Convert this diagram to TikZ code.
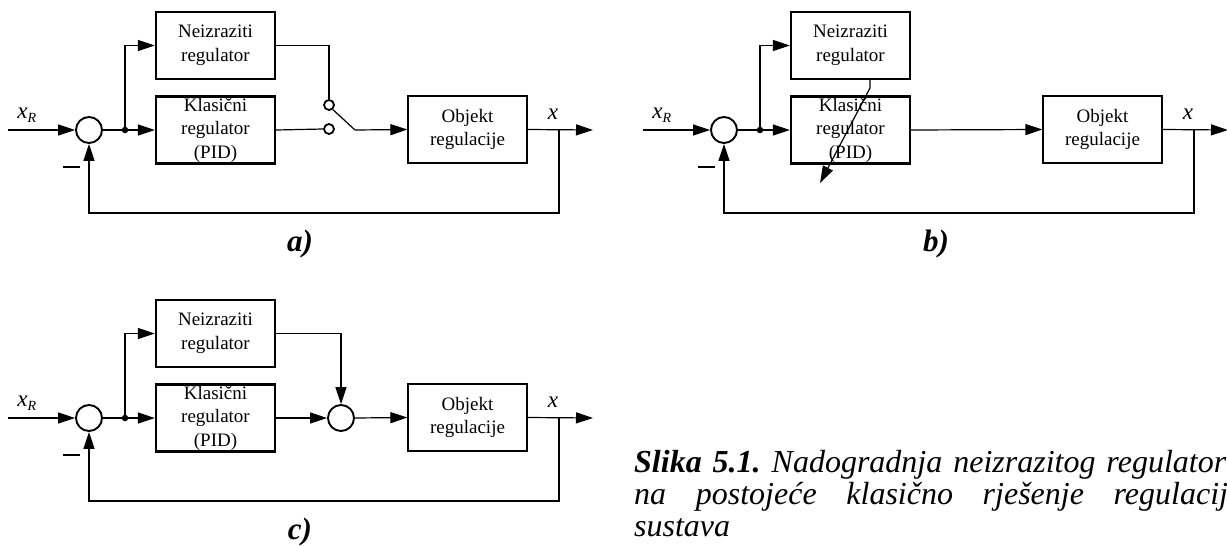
\documentclass[tikz,border=0pt]{standalone}
\usepackage{fontspec}
\setmainfont{Liberation Serif}
\usetikzlibrary{arrows.meta}
\begin{document}
\begin{tikzpicture}[x=1pt,y=-1pt,
  conn/.style={line width=1.2pt},
  arr/.style={conn,-{Triangle[length=17pt,width=11pt]}},
  tbox/.style={draw,line width=2.4pt,minimum width=119pt,minimum height=67pt,inner sep=0pt,align=center,font=\fontsize{19}{23.5}\selectfont},
  pbox/.style={tbox,line width=1.2pt},
  sumc/.style={circle,draw,line width=1.9pt,minimum size=26pt,inner sep=0pt},
  junc/.style={circle,fill,minimum size=6.5pt,inner sep=0pt},
  contact/.style={circle,draw,fill=white,line width=1.8pt,minimum size=10pt,inner sep=0pt},
  sig/.style={font=\fontsize{23}{23}\selectfont\itshape,inner sep=0pt},
  minus/.style={inner sep=0pt},
  sublabel/.style={font=\fontsize{31}{31}\selectfont\bfseries\itshape,inner sep=0pt,anchor=base},
  caption/.style={anchor=north west,inner sep=0pt,text width=608pt,align=justify,font=\fontsize{32}{32}\selectfont\itshape}
]
\useasboundingbox (0,0) rectangle (1227,546);

% ---------------- a) ----------------
\node[sumc] (sA) at (89,130) {};
\node[junc] (jA) at (125,130) {};
\node[tbox] (nzA) at (215.5,45.5) {Neizraziti\\regulator};
\node[tbox] (klA) at (215.5,130) {Klasični\\regulator\\(PID)};
\node[pbox] (obA) at (467.5,129.5) {Objekt\\regulacije};
\node[contact] (swuA) at (329,105) {};
\node[contact] (swlA) at (329,129) {};
\coordinate (sweA) at (355,130);
\coordinate (inA) at (8,130);
\coordinate (outA) at (593,130);
\coordinate (fbA) at (559,130);
\coordinate (fbbA) at (559,213);
\node[sig] (xrA) at (27,115) {x\textsubscript{\fontsize{14}{14}\selectfont R}};
\node[sig] (xA) at (553,114) {x};
\node[minus] (mA) at (71.5,167) {\rule{17pt}{1.5pt}};
\node[sublabel] (labA) at (300,251) {a)};
\draw[arr] (inA) -- (sA.west);
\draw[conn] (sA.east) -- (jA);
\draw[arr] (jA) -- (klA.west);
\draw[arr] (jA) |- (nzA.west);
\draw[conn] (klA.east) -- (swlA.west);
\draw[conn] (nzA.east) -| (swuA.north);
\draw[conn] (swuA.-50) -- (sweA);
\draw[arr] (sweA) -- (obA.west);
\draw[arr] (obA.east) -- (outA);
\draw[arr] (fbA) -- (fbbA) -| (sA.south);

% ---------------- b) ----------------
\begin{scope}[shift={(635,0)}]
\node[sumc] (sB) at (89,130) {};
\node[junc] (jB) at (125,130) {};
\node[tbox] (nzB) at (215.5,45.5) {Neizraziti\\regulator};
\node[tbox] (klB) at (215.5,130) {Klasični\\regulator\\(PID)};
\node[pbox] (obB) at (467.5,129.5) {Objekt\\regulacije};
\coordinate (inB) at (8,130);
\coordinate (outB) at (593,130);
\coordinate (fbB) at (559,130);
\coordinate (fbbB) at (559,213);
\coordinate (dgA) at (235,79);
\coordinate (dgB) at (235,88);
\coordinate (dgT) at (185,183);
\node[sig] (xrB) at (27,115) {x\textsubscript{\fontsize{14}{14}\selectfont R}};
\node[sig] (xB) at (553,114) {x};
\node[minus] (mB) at (71.5,167) {\rule{17pt}{1.5pt}};
\node[sublabel] (labB) at (301,251) {b)};
\draw[arr] (inB) -- (sB.west);
\draw[conn] (sB.east) -- (jB);
\draw[arr] (jB) -- (klB.west);
\draw[arr] (jB) |- (nzB.west);
\draw[arr] (klB.east) -- (obB.west);
\draw[arr] (obB.east) -- (outB);
\draw[arr] (fbB) -- (fbbB) -| (sB.south);
\draw[arr] (dgA) -- (dgB) -- (dgT);
\end{scope}

% ---------------- c) ----------------
\begin{scope}[shift={(0,288)}]
\node[sumc] (sC) at (89,130) {};
\node[junc] (jC) at (125,130) {};
\node[tbox] (nzC) at (215.5,45.5) {Neizraziti\\regulator};
\node[tbox] (klC) at (215.5,130) {Klasični\\regulator\\(PID)};
\node[sumc] (s2C) at (341,130) {};
\node[pbox] (obC) at (467.5,129.5) {Objekt\\regulacije};
\coordinate (inC) at (8,130);
\coordinate (outC) at (593,130);
\coordinate (fbC) at (559,130);
\coordinate (fbbC) at (559,213);
\node[sig] (xrC) at (27,115) {x\textsubscript{\fontsize{14}{14}\selectfont R}};
\node[sig] (xC) at (553,114) {x};
\node[minus] (mC) at (71.5,167) {\rule{17pt}{1.5pt}};
\node[sublabel] (labC) at (300,251) {c)};
\draw[arr] (inC) -- (sC.west);
\draw[conn] (sC.east) -- (jC);
\draw[arr] (jC) -- (klC.west);
\draw[arr] (jC) |- (nzC.west);
\draw[arr] (klC.east) -- (s2C.west);
\draw[arr] (nzC.east) -| (s2C.north);
\draw[arr] (s2C.east) -- (obC.west);
\draw[arr] (obC.east) -- (outC);
\draw[arr] (fbC) -- (fbbC) -| (sC.south);
\end{scope}

% ---------------- caption ----------------
\node[caption] (cap) at (634,450) {\frenchspacing\tolerance=10000\hyphenpenalty=10000\textbf{Slika 5.1.} Nadogradnja neizrazitog regulatora\linebreak na postojeće klasično rješenje regulacije\linebreak sustava};
\end{tikzpicture}
\end{document}
